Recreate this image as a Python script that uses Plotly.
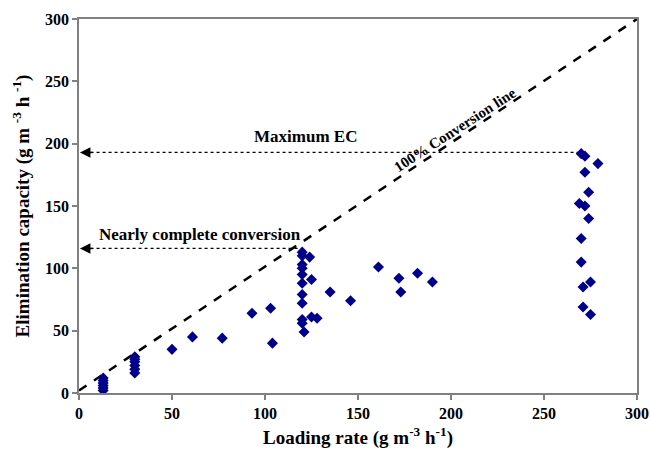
import plotly.graph_objects as go

# Data
loading_rate = [13, 13, 13, 13, 13, 13,
                30, 30, 30, 30, 30, 30,
                50, 61, 77, 93, 103, 104,
                120, 120, 120, 120, 120, 120, 120, 120, 120, 120, 121,
                124, 125, 125, 128, 135, 146, 161, 172, 173, 182, 190,
                270, 272, 279, 272, 274, 269, 272, 274, 270, 270, 275, 271, 271, 275]
elimination = [12, 10, 8, 6, 4, 2,
               29, 27, 25, 22, 19, 16,
               35, 45, 44, 64, 68, 40,
               113, 110, 103, 100, 95, 88, 79, 72, 59, 56, 49,
               109, 91, 61, 60, 81, 74, 101, 92, 81, 96, 89,
               192, 190, 184, 177, 161, 152, 150, 140, 124, 105, 89, 85, 69, 63]

conv_x = [0, 300]
conv_y = [2, 300]

max_ec = 193
max_ec_x = [3, 272]
near_complete = 116
near_x = [3, 119]

x_ticks = [0, 50, 100, 150, 200, 250, 300]
y_ticks = [0, 50, 100, 150, 200, 250, 300]

FONT = "Liberation Serif"
NAVY = "#00008B"

fig = go.Figure()

fig.add_trace(go.Scatter(x=conv_x, y=conv_y, mode="lines",
                         line=dict(color="black", width=2.5, dash="dash"),
                         hoverinfo="skip"))
fig.add_trace(go.Scatter(x=max_ec_x, y=[max_ec, max_ec], mode="lines",
                         line=dict(color="black", width=1.2, dash="dot"),
                         hoverinfo="skip"))
fig.add_trace(go.Scatter(x=near_x, y=[near_complete, near_complete], mode="lines",
                         line=dict(color="black", width=1.2, dash="dot"),
                         hoverinfo="skip"))
fig.add_trace(go.Scatter(x=loading_rate, y=elimination, mode="markers",
                         marker=dict(symbol="diamond", size=8.5, color=NAVY),
                         hoverinfo="skip"))

# arrowheads
for yv in [max_ec, near_complete]:
    fig.add_annotation(x=0.5, y=yv, ax=8, ay=yv, xref="x", yref="y",
                       axref="x", ayref="y", showarrow=True, arrowhead=2,
                       arrowsize=1.4, arrowwidth=1.5, arrowcolor="black", text="")

fig.add_annotation(x=122, y=206, text="<b>Maximum EC</b>", showarrow=False,
                   font=dict(family=FONT, size=17, color="black"))
fig.add_annotation(x=65, y=127, text="<b>Nearly complete conversion</b>", showarrow=False,
                   font=dict(family=FONT, size=17, color="black"))
fig.add_annotation(x=202, y=211, text="<b>100% Conversion line</b>", showarrow=False,
                   textangle=-33, font=dict(family=FONT, size=15, color="black"))

axis_common = dict(showgrid=False, zeroline=False, showline=True, linecolor="#808080",
                   linewidth=1.5, mirror=True, ticks="outside", ticklen=5,
                   tickcolor="#808080", tickwidth=1.5, automargin=False,
                   ticklabeloverflow="allow",
                   tickfont=dict(family=FONT, size=16, color="black"))

fig.update_layout(
    width=650, height=449,
    margin=dict(l=79, r=13, t=19, b=56),
    paper_bgcolor="white", plot_bgcolor="white",
    showlegend=False,
    xaxis=dict(range=[0, 300], tickvals=x_ticks,
               ticktext=[f"<b>{v}</b>" for v in x_ticks],
               title=dict(text="<b>Loading rate (g m<sup>-3</sup> h<sup>-1</sup>)</b>",
                          font=dict(family=FONT, size=19, color="black"), standoff=10),
               **axis_common),
    yaxis=dict(range=[0, 300], tickvals=y_ticks,
               ticktext=[f"<b>{v}</b>" for v in y_ticks],
               title=dict(text="<b>Elimination capacity (g m <sup>-3</sup> h <sup>-1</sup>)</b>",
                          font=dict(family=FONT, size=19, color="black"), standoff=10),
               **axis_common),
)

# remove the default page margin so the figure fills the 650x449 window
fig.write_html("out.html", config={"displayModeBar": False},
               post_script="document.body.style.margin='0';document.body.style.overflow='hidden';")
